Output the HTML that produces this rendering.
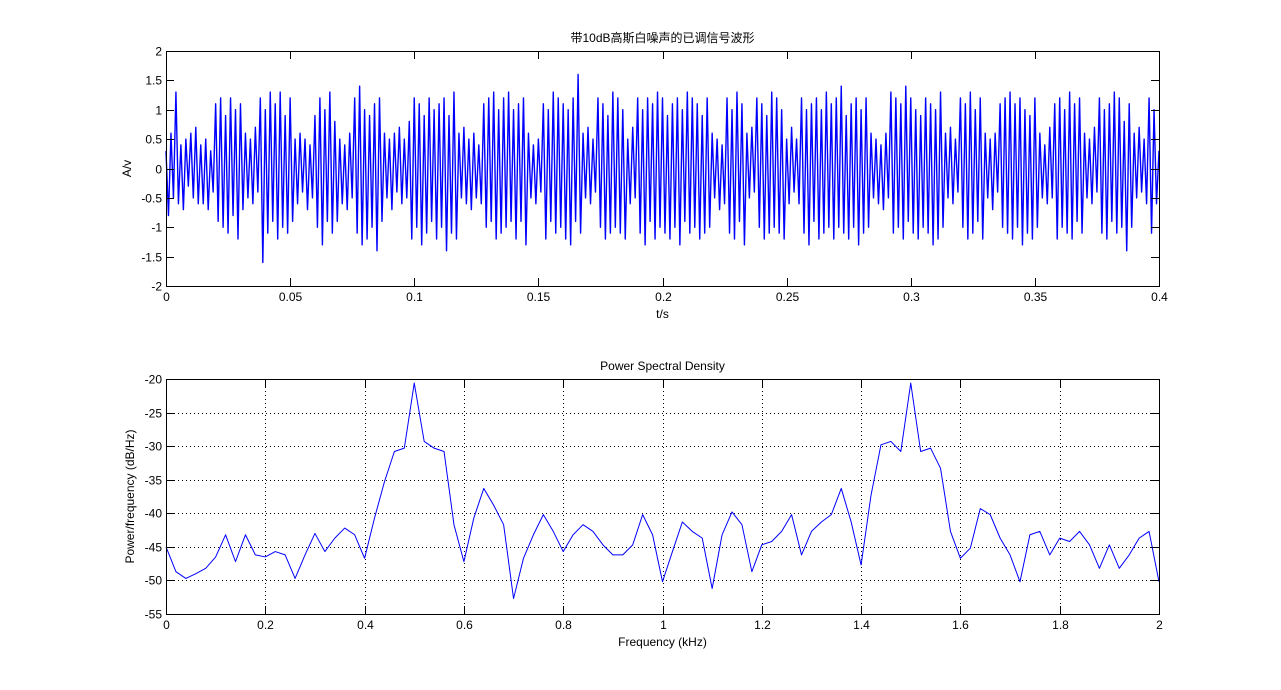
<!DOCTYPE html>
<html><head><meta charset="utf-8">
<style>
html,body{margin:0;padding:0;background:#fff;}
svg{display:block;font-family:"Liberation Sans","Noto Sans CJK SC",sans-serif;}
</style></head>
<body>
<svg id="fig" width="1281" height="690" viewBox="0 0 1281 690" xmlns="http://www.w3.org/2000/svg">
<rect x="0" y="0" width="1281" height="690" fill="#fff"/>
</svg>
<script>
// ---- Top chart data (signal amplitude, 1 sample per ms, 0..0.4 s) ----
const sigTime0 = 0, sigStep = 0.001;
const sigValues = [
 0.3,-0.8,0.6,-0.5,1.3,-0.6,0.4,-0.7,0.5,-0.3, 0.6,-0.5,0.7,-0.6,0.4,-0.6,0.5,-0.7,0.3,-0.4,
 1.1,-0.9,1.2,-1.0,0.9,-1.1,1.2,-0.8,1.0,-1.2, 1.1,-0.7,0.6,-0.5,0.5,-0.6,0.7,-0.4,1.2,-1.6,
 1.0,-1.1,1.3,-0.9,1.1,-1.2,1.3,-1.0,0.9,-1.1, 1.2,-0.9,0.5,-0.6,0.6,-0.4,0.5,-0.7,0.4,-0.5,
 0.9,-1.0,1.2,-1.3,1.0,-0.9,1.3,-1.1,0.8,-0.9, 0.5,-0.6,0.4,-0.7,0.6,-0.5,1.2,-1.1,1.4,-1.3,
 1.0,-1.2,0.9,-1.0,1.1,-1.4,1.2,-0.9,0.6,-0.5, 0.5,-0.7,0.6,-0.4,0.7,-0.6,0.5,-0.5,0.8,-1.2,
 1.2,-1.0,1.1,-1.3,0.9,-1.1,1.2,-0.9,1.0,-1.2, 1.1,-1.0,1.2,-1.4,0.9,-1.1,1.3,-1.2,0.6,-0.5,
 0.7,-0.6,0.5,-0.7,0.6,-0.5,0.4,-0.6,1.1,-1.0, 1.2,-0.9,1.3,-1.2,1.0,-1.1,1.2,-1.0,1.3,-0.9,
 1.0,-1.2,1.1,-0.9,1.2,-1.3,0.6,-0.5,0.4,-0.6, 0.5,-0.4,1.1,-1.2,1.0,-0.9,1.3,-1.1,1.2,-1.0,
 1.1,-1.2,1.0,-1.3,1.2,-0.9,1.6,-1.1,0.6,-0.5, 0.7,-0.6,0.5,-0.4,1.2,-1.0,1.1,-1.2,0.9,-1.1,
 1.3,-1.0,1.2,-1.1,1.0,-1.2,0.5,-0.6,0.7,-0.5, 1.2,-1.1,1.0,-1.3,1.2,-0.9,1.1,-1.2,1.3,-1.0,
 1.2,-1.1,0.9,-1.2,1.1,-1.0,1.2,-1.3,1.0,-0.9, 1.3,-1.1,1.2,-1.0,1.1,-1.2,0.9,-1.1,1.2,-1.0,
 0.6,-0.5,0.5,-0.7,0.4,-0.6,1.2,-1.1,1.0,-1.2, 1.3,-0.9,1.1,-1.3,0.6,-0.5,0.7,-0.4,1.2,-1.0,
 1.1,-1.2,0.9,-1.1,1.3,-1.0,1.2,-1.1,1.0,-1.2, 0.5,-0.6,0.7,-0.4,0.5,-0.6,1.2,-1.1,1.0,-1.3,
 1.1,-0.9,1.2,-1.2,1.0,-1.1,1.3,-1.0,1.1,-1.2, 1.2,-1.0,1.4,-1.1,0.9,-1.2,1.1,-1.0,1.2,-1.3,
 1.0,-1.1,1.2,-1.0,0.6,-0.5,0.5,-0.6,0.4,-0.7, 0.6,-0.5,1.3,-1.1,1.2,-1.0,1.1,-1.2,1.4,-0.9,
 1.2,-1.1,1.0,-1.2,0.9,-1.0,1.2,-1.1,1.1,-1.3, 1.0,-1.2,1.3,-1.0,0.6,-0.5,0.7,-0.6,0.5,-0.4,
 1.2,-1.0,1.1,-1.2,1.3,-1.1,1.0,-0.9,1.2,-1.2, 0.6,-0.5,0.5,-0.7,0.6,-0.4,1.1,-1.0,1.2,-1.1,
 1.3,-1.2,1.1,-1.0,1.2,-1.3,1.0,-1.1,0.9,-1.2, 1.2,-1.0,0.6,-0.5,0.4,-0.6,0.7,-0.5,1.1,-1.2,
 1.2,-1.0,1.0,-1.1,1.3,-1.2,1.1,-0.9,1.2,-1.1, 0.6,-0.5,0.5,-0.6,0.7,-0.4,1.2,-1.1,1.0,-1.2,
 1.1,-0.9,1.3,-1.1,1.2,-1.0,0.8,-1.4,1.1,-1.0, 0.6,-0.5,0.7,-0.4,0.5,-0.6,1.2,-1.1,1.0,-0.6,
 0.3
];
const sigXTicks = [0,0.05,0.1,0.15,0.2,0.25,0.3,0.35,0.4];
const sigXTickLabels = ["0","0.05","0.1","0.15","0.2","0.25","0.3","0.35","0.4"];
const sigYTicks = [-2,-1.5,-1,-0.5,0,0.5,1,1.5,2];
const sigYTickLabels = ["-2","-1.5","-1","-0.5","0","0.5","1","1.5","2"];

// ---- Bottom chart data (PSD, step 0.02 kHz) ----
const psdFreq0 = 0, psdStep = 0.02;
const psdValues = [
 -45,-48.7,-49.7,-49,-48.2,-46.5,-43.2,-47.2,-43.2,-46.2,
 -46.5,-45.7,-46.2,-49.7,-46.2,-43,-45.7,-43.7,-42.2,-43.2,
 -46.7,-40.7,-35.3,-30.8,-30.3,-20.6,-29.3,-30.3,-30.8,-41.7,
 -47.2,-40.7,-36.3,-38.8,-41.7,-52.7,-46.7,-43.2,-40.2,-42.7,
 -45.7,-43.2,-41.7,-42.7,-44.7,-46.2,-46.2,-44.7,-40.2,-43.2,
 -50.2,-45.7,-41.3,-42.7,-43.7,-51.2,-43.2,-39.8,-41.7,-48.7,
 -44.7,-44.2,-42.7,-40.2,-46.2,-42.7,-41.3,-40.2,-36.3,-41.3,
 -47.7,-37.3,-29.8,-29.3,-30.8,-20.6,-30.8,-30.3,-33.3,-42.7,
 -46.7,-45.2,-39.3,-40.2,-43.7,-46.2,-50.2,-43.2,-42.7,-46.2,
 -43.7,-44.2,-42.7,-44.7,-48.2,-44.7,-48.2,-46.2,-43.7,-42.7,
 -50.2
];
const psdXTicks = [0,0.2,0.4,0.6,0.8,1,1.2,1.4,1.6,1.8,2];
const psdXTickLabels = ["0","0.2","0.4","0.6","0.8","1","1.2","1.4","1.6","1.8","2"];
const psdYTicks = [-55,-50,-45,-40,-35,-30,-25,-20];
const psdYTickLabels = ["-55","-50","-45","-40","-35","-30","-25","-20"];

const NS = "http://www.w3.org/2000/svg";
const svg = document.getElementById("fig");
function mk(tag, attrs, parent){
  const e = document.createElementNS(NS, tag);
  for (const k in attrs) e.setAttribute(k, attrs[k]);
  (parent||svg).appendChild(e);
  return e;
}

function drawAxes(o){
  const g = mk("g", {});
  
  
  const L=o.left, R=o.right, T=o.top, B=o.bottom;
  const sx = v => L + (v - o.xmin)/(o.xmax - o.xmin)*(R-L);
  const sy = v => B - (v - o.ymin)/(o.ymax - o.ymin)*(B-T);
  if (o.grid){
    o.xticks.forEach(v=>{ if(v>o.xmin && v<o.xmax){ const l=mk("line",{x1:Math.round(sx(v))+0.5,x2:Math.round(sx(v))+0.5,y1:T,y2:B,stroke:"#000","stroke-width":1,"stroke-dasharray":"1,3"},g);
        }});
    o.yticks.forEach(v=>{ if(v>o.ymin && v<o.ymax){ const l=mk("line",{x1:L,x2:R,y1:Math.round(sy(v))+0.5,y2:Math.round(sy(v))+0.5,stroke:"#000","stroke-width":1,"stroke-dasharray":"1,3"},g);
        }});
  }
  let d = "";
  o.values.forEach((v,i)=>{ d += (i?"L":"M") + sx(o.x0 + i*o.step).toFixed(2) + "," + sy(v).toFixed(2); });
  const p = mk("path",{d:d,fill:"none",stroke:"#0000ff","stroke-width":o.lw,"stroke-linejoin":"round"},g);
  
  
  const box = mk("rect",{x:L+0.5,y:T+0.5,width:R-L,height:B-T,fill:"none",stroke:"#000","stroke-width":1},g);
  
  
  o.xticks.forEach((v,i)=>{
    const x = Math.round(sx(v))+0.5;
    mk("line",{x1:x,x2:x,y1:B,y2:B-8,stroke:"#000"},g);
    mk("line",{x1:x,x2:x,y1:T,y2:T+8,stroke:"#000"},g);
    const t = mk("text",{x:x,y:B+15,"font-size":12,"text-anchor":"middle"},g);
    t.textContent = o.xlabels[i];
    
    
  });
  o.yticks.forEach((v,i)=>{
    const y = Math.round(sy(v))+0.5;
    mk("line",{x1:L,x2:L+8,y1:y,y2:y,stroke:"#000"},g);
    mk("line",{x1:R,x2:R-8,y1:y,y2:y,stroke:"#000"},g);
    const t = mk("text",{x:L-4,y:y+4,"font-size":12,"text-anchor":"end"},g);
    t.textContent = o.ylabels[i];
    
    
  });
  const tt = mk("text",{x:(L+R)/2,y:T-9,"font-size":12,"text-anchor":"middle"},g);
  tt.textContent = o.title;
  
  
  const xl = mk("text",{x:(L+R)/2,y:B+32,"font-size":12,"text-anchor":"middle"},g);
  xl.textContent = o.xtitle;
  
  
  const yx = o.ytitleX, yy=(T+B)/2;
  const yl = mk("text",{x:yx,y:yy,"font-size":12,"text-anchor":"middle",transform:`rotate(-90 ${yx} ${yy})`},g);
  yl.textContent = o.ytitle;
  
  
}

drawAxes({name:"signal-chart",seriesName:"signal-line",left:166,right:1159,top:51,bottom:286,
  xmin:0,xmax:0.4,ymin:-2,ymax:2,x0:sigTime0,step:sigStep,values:sigValues,lw:1.4,
  xticks:sigXTicks,xlabels:sigXTickLabels,yticks:sigYTicks,ylabels:sigYTickLabels,grid:false,
  title:"带10dB高斯白噪声的已调信号波形",xtitle:"t/s",ytitle:"A/v",ytitleX:131});
drawAxes({name:"psd-chart",seriesName:"psd-line",left:166,right:1159,top:379,bottom:614,
  xmin:0,xmax:2,ymin:-55,ymax:-20,x0:psdFreq0,step:psdStep,values:psdValues,lw:1,
  xticks:psdXTicks,xlabels:psdXTickLabels,yticks:psdYTicks,ylabels:psdYTickLabels,grid:true,
  title:"Power Spectral Density",xtitle:"Frequency (kHz)",ytitle:"Power/frequency (dB/Hz)",ytitleX:134});
</script>
</body></html>
